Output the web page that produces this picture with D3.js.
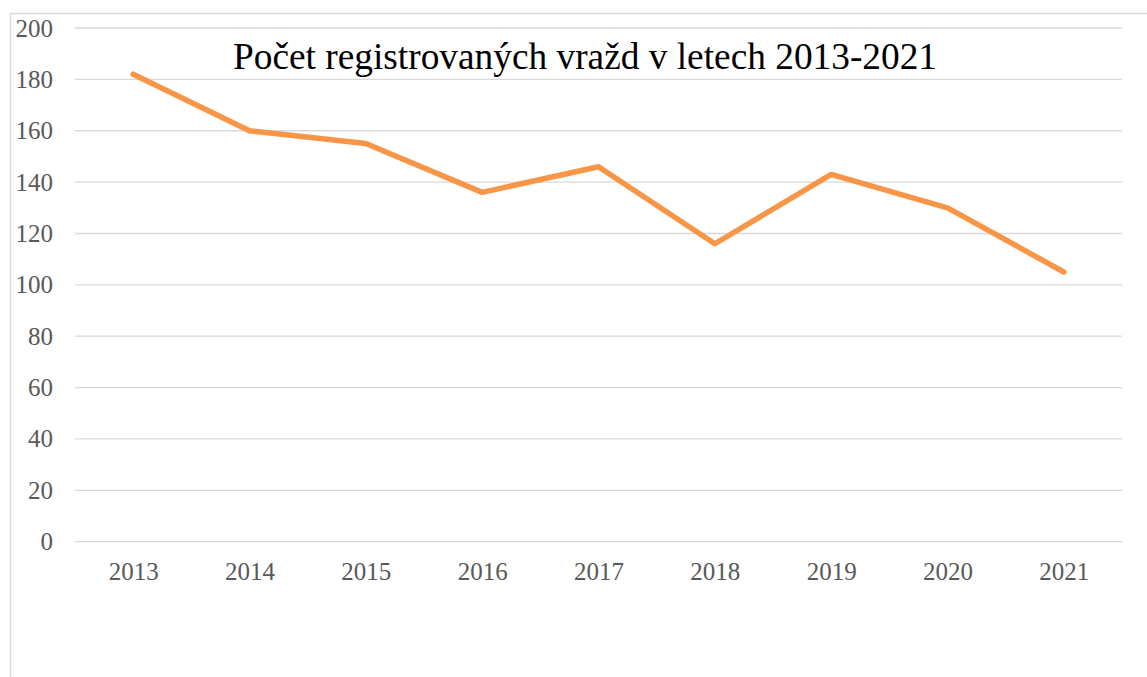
<!DOCTYPE html>
<html>
<head>
<meta charset="utf-8">
<script src="https://cdn.jsdelivr.net/npm/d3@7"></script>
<style>
  html, body { margin: 0; padding: 0; background: #fff; }
  svg { display: block; }
</style>
</head>
<body>
<svg id="chart" width="1147" height="677"></svg>
<script>
const years = ["2013", "2014", "2015", "2016", "2017", "2018", "2019", "2020", "2021"];
const murders = [182, 160, 155, 136, 146, 116, 143, 130, 105];
const yTicks = [0, 20, 40, 60, 80, 100, 120, 140, 160, 180, 200];
const title = "Počet registrovaných vražd v letech 2013-2021";

const svg = d3.select("#chart");
const W = 1147, H = 677;
const plot = { left: 75, right: 1122, top: 28, bottom: 541.7 };

// outer border (extends beyond the visible area on right and bottom)
svg.append("rect")
  .attr("x", 10.5).attr("y", 13.5)
  .attr("width", W + 20).attr("height", H + 20)
  .attr("fill", "none").attr("stroke", "#d9d9d9").attr("stroke-width", 1.5);

const x = d3.scalePoint().domain(years).range([plot.left, plot.right]).padding(0.5);
const y = d3.scaleLinear().domain([0, 200]).range([plot.bottom, plot.top]);

// gridlines
svg.append("g").selectAll("line").data(yTicks).join("line")
  .attr("x1", plot.left).attr("x2", plot.right)
  .attr("y1", d => y(d)).attr("y2", d => y(d))
  .attr("stroke", "#d9d9d9").attr("stroke-width", 1.3);

// y axis labels
const yAxis = d3.axisLeft(y).tickValues(yTicks).tickSize(0).tickPadding(0);
const gy = svg.append("g").attr("transform", "translate(53,0)").call(yAxis);
gy.select(".domain").remove();
gy.selectAll("text")
  .attr("font-family", "'Liberation Serif', serif")
  .attr("font-size", 25).attr("fill", "#595959");

// x axis labels
const xAxis = d3.axisBottom(x).tickSize(0).tickPadding(0);
const gx = svg.append("g").attr("transform", "translate(0,562)").call(xAxis);
gx.select(".domain").remove();
gx.selectAll("text")
  .attr("font-family", "'Liberation Serif', serif")
  .attr("font-size", 25).attr("fill", "#595959");

// line
const line = d3.line().x((d, i) => x(years[i])).y(d => y(d));
svg.append("path")
  .datum(murders)
  .attr("d", line)
  .attr("fill", "none")
  .attr("stroke", "#F79646")
  .attr("stroke-width", 5.5)
  .attr("stroke-linecap", "round")
  .attr("stroke-linejoin", "round");

// title
svg.append("text")
  .attr("x", 585).attr("y", 69)
  .attr("text-anchor", "middle")
  .attr("font-family", "'Liberation Serif', 'Times New Roman', serif")
  .attr("font-size", 37.5)
  .attr("textLength", 704)
  .attr("lengthAdjust", "spacingAndGlyphs")
  .attr("fill", "#000")
  .text(title);
</script>
</body>
</html>
